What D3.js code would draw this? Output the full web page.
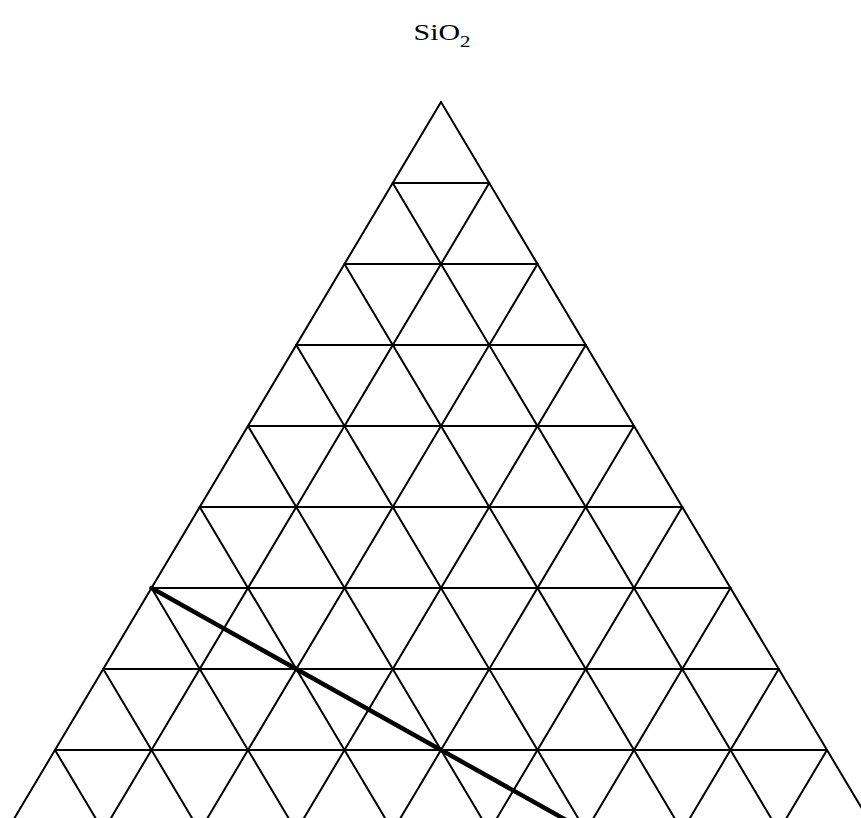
<!DOCTYPE html>
<html>
<head>
<meta charset="utf-8">
<script src="https://cdn.jsdelivr.net/npm/d3@7"></script>
<style>
  html, body { margin: 0; padding: 0; background: #fff; overflow: hidden; }
</style>
</head>
<body>
<svg id="chart" width="861" height="818"></svg>
<script>
// grid levels (fraction of each component)
var gridLevels = [0.1, 0.2, 0.3, 0.4, 0.5, 0.6, 0.7, 0.8, 0.9];
// apex label
var apexLabel = "SiO";
var apexSub = "2";
// thick line, ternary points [SiO2, left, right]
var lineStart = [0.4, 0.6, 0.0];
var lineEnd = [0.0, 0.2, 0.8];

var svg = d3.select("#chart");

var cx = 441, apexY = 102, halfW = 482.5, H = 810;

// x uses (right - left), y uses SiO2 fraction
var x = d3.scaleLinear().domain([-1, 1]).range([cx - halfW, cx + halfW]);
var y = d3.scaleLinear().domain([1, 0]).range([apexY, apexY + H]);

function pt(p) { return [x(p[2] - p[1]), y(p[0])]; }

var segs = [];
// outer triangle edges
segs.push([[1, 0, 0], [0, 1, 0]]);
segs.push([[1, 0, 0], [0, 0, 1]]);
segs.push([[0, 1, 0], [0, 0, 1]]);
gridLevels.forEach(function (k) {
  segs.push([[k, 1 - k, 0], [k, 0, 1 - k]]);   // constant SiO2
  segs.push([[1 - k, k, 0], [0, k, 1 - k]]);   // constant left
  segs.push([[1 - k, 0, k], [0, 1 - k, k]]);   // constant right
});

svg.append("g").selectAll("line")
  .data(segs)
  .enter().append("line")
  .attr("x1", function (d) { return pt(d[0])[0]; })
  .attr("y1", function (d) { return pt(d[0])[1]; })
  .attr("x2", function (d) { return pt(d[1])[0]; })
  .attr("y2", function (d) { return pt(d[1])[1]; })
  .attr("stroke", "#000")
  .attr("stroke-width", 2)
  .attr("stroke-linecap", "round");

svg.append("line")
  .attr("x1", pt(lineStart)[0]).attr("y1", pt(lineStart)[1])
  .attr("x2", pt(lineEnd)[0]).attr("y2", pt(lineEnd)[1])
  .attr("stroke", "#000")
  .attr("stroke-width", 4.5)
  .attr("stroke-linecap", "round");

// label looks horizontally stretched in the original
var t = svg.append("text")
  .attr("transform", "translate(" + (cx + 1) + ",40) scale(1.3,1)")
  .attr("text-anchor", "middle")
  .style("font-family", "'Liberation Serif', 'Times New Roman', serif")
  .style("font-size", "23px")
  .attr("fill", "#000");
t.append("tspan").text(apexLabel);
t.append("tspan").attr("dy", 7).style("font-size", "16px").text(apexSub);
</script>
</body>
</html>
